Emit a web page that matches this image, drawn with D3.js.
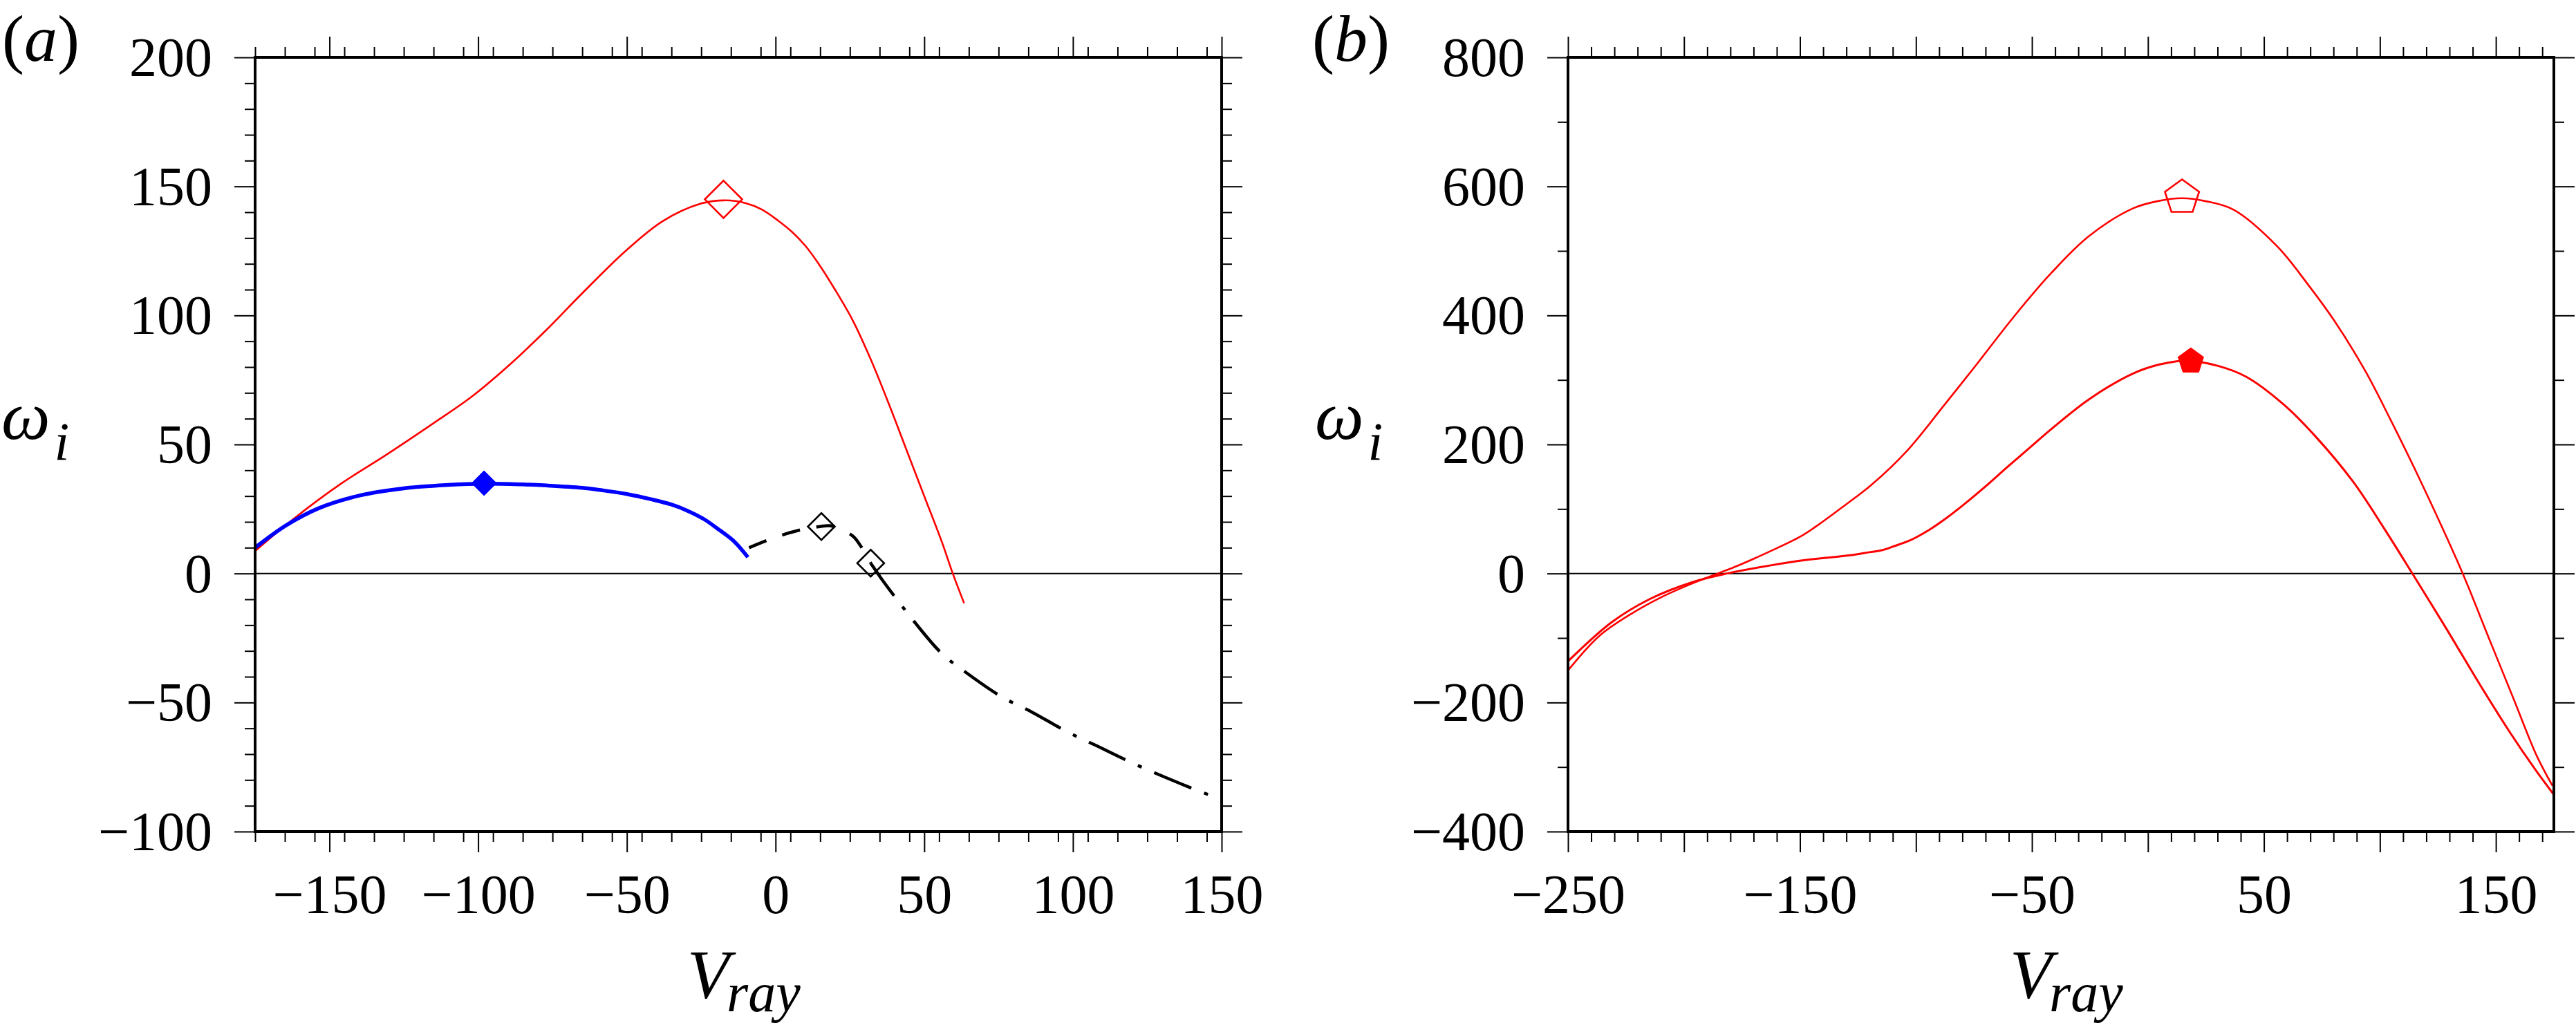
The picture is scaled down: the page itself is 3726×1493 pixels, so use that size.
<!DOCTYPE html>
<html>
<head>
<meta charset="utf-8">
<script src="https://cdn.jsdelivr.net/npm/d3@7"></script>
<style>
  html, body { margin: 0; padding: 0; background: #fff; }
  svg { display: block; }
  text { font-family: "Liberation Serif", "Times New Roman", serif; fill: #000; }
</style>
</head>
<body>
<svg id="chart" width="3726" height="1493"></svg>
<script>
// ---------------- DATA ----------------
// Panel (a)
const aRedV = [-175, -161.5, -146, -131.4, -114.8, -102.3, -89.9, -77.4, -65, -50.4, -38, -25.5, -17.2, -10, -4.7, 0.8, 5.6, 10, 14.5, 20, 26, 32, 38, 44, 50, 56, 59.6, 63.4];
const aRedW = [8.7, 21.7, 34.9, 45.6, 58.4, 68.4, 80.4, 94, 108.6, 125, 136.5, 143.2, 144.6, 143.5, 141.1, 136.8, 132.3, 127, 120, 110, 98, 83, 66, 48, 30, 12, 0, -11.5];

const aBlueV = [-175, -164.8, -153.8, -139.9, -125, -110, -98, -85, -77, -65, -58.7, -50, -42, -35, -29.6, -24, -19.3, -14, -9.3];
const aBlueW = [10, 18.5, 25.2, 30.2, 33, 34.3, 34.8, 34.5, 34.1, 33.2, 32.3, 30.8, 28.8, 26.7, 24.3, 21, 17.2, 12.5, 6.3];

const aDashV = [-8.9, -2, 3.6, 8, 11.9, 15, 18.1, 21.2, 24, 26.4, 29, 32];
const aDashW = [10, 13.2, 15.4, 16.8, 17.6, 18.2, 18.5, 17.6, 16, 14.1, 10, 4];

const aDashDotV = [32, 35.9, 39.9, 46.8, 55.9, 64.8, 76.2, 86.2, 98, 108.4, 120.5, 131.3, 143.7, 150];
const aDashDotW = [4, -2.5, -8.7, -18.9, -31, -39, -47.9, -53.7, -61.3, -67, -73.7, -79.1, -84.9, -87.5];

const aMarkRedOpen = [-17.5, 145];
const aMarkBlueFilled = [-98, 35];
const aMarkBlackOpen = [[15.4, 18.2], [32, 4]];

const aXTicksMajor = [-150, -100, -50, 0, 50, 100, 150];
const aYTicksMajor = [-100, -50, 0, 50, 100, 150, 200];

// Panel (b)
const bUpperV = [-250, -236.5, -222.9, -209.4, -195.9, -185, -176.9, -163.4, -149.9, -141.7, -130.9, -119.3, -103.9, -87.6, -74.1, -57.8, -41.6, -25.4, -6.4, 4, 14.7, 25, 36.9, 55.8, 69.4, 80.2, 93.7, 104.5, 118.1, 135.7, 146.2, 157.9, 167.6, 174.4];
const bUpperW = [-150.4, -96.8, -62.9, -36.1, -14.7, 0.5, 12, 33.5, 57, 76.4, 105, 137, 190, 262, 323, 398, 466, 523, 566, 577, 581.7, 577, 563.9, 506.8, 446, 392.5, 313.9, 238.9, 138.9, 0, -93.2, -196.8, -282.5, -329];

const bLowerV = [-250, -231.1, -214.8, -195.9, -181, -163.4, -147.2, -128.2, -120, -114.7, -109.3, -102.5, -95, -87.6, -80, -70, -60.6, -50, -41.6, -25.4, -6.4, 5, 16.6, 30, 42.3, 58.5, 72.1, 88.3, 101.8, 114, 128.9, 142.4, 156, 166.8, 175];
const bLowerW = [-136.1, -75.4, -39.7, -12.9, 0.3, 12.1, 21, 28.2, 33, 36, 42.5, 51.4, 66, 84, 105, 135, 165, 198, 224, 270, 310, 324, 330, 322, 305, 262, 213, 143, 70, 0, -87, -168, -246, -303, -343];

const bMarkOpen = [14.7, 583];
const bMarkFilled = [18.5, 329];

const bXTicksMajor = [-250, -200, -150, -100, -50, 0, 50, 100, 150];
const bXTickLabels = [-250, -150, -50, 50, 150];
const bYTicksMajor = [-400, -200, 0, 200, 400, 600, 800];

// ---------------- DRAW ----------------
const SERIF = '"Liberation Serif", "Times New Roman", serif';
const svg = d3.select("#chart");
svg.append("rect").attr("width", 3726).attr("height", 1493).attr("fill", "#fff");

const FONT = 80;
const zip = (a, b) => a.map((v, i) => [v, b[i]]);

function range(a, b, s) { const r = []; for (let v = a; v <= b + 1e-9; v += s) r.push(+v.toFixed(6)); return r; }

function panel(cfg) {
  const x = d3.scaleLinear().domain(cfg.xDom).range([cfg.left, cfg.right]);
  const y = d3.scaleLinear().domain(cfg.yDom).range([cfg.bottom, cfg.top]);
  const g = svg.append("g");

  const clipId = "clip" + cfg.id;
  svg.append("clipPath").attr("id", clipId).append("rect")
    .attr("x", cfg.left).attr("y", cfg.top)
    .attr("width", cfg.right - cfg.left).attr("height", cfg.bottom - cfg.top);

  const minorX = range(cfg.xDom[0], cfg.xDom[1], cfg.xMinorStep).filter(v => !cfg.xMajor.includes(v));
  const minorY = range(cfg.yDom[0], cfg.yDom[1], cfg.yMinorStep).filter(v => !cfg.yMajor.includes(v));

  function styleAxis(sel, dy) {
    sel.attr("font-family", SERIF).attr("font-size", FONT);
    sel.select(".domain").remove();
    sel.selectAll(".tick line").attr("stroke", "#000").attr("stroke-width", 2);
    sel.selectAll(".tick text").style("font-size", FONT + "px")
      .style("font-family", SERIF).attr("fill", "#000");
    if (dy) sel.selectAll(".tick text").attr("dy", dy);
  }

  // bottom
  g.append("g").attr("transform", `translate(0,${cfg.bottom})`)
    .call(d3.axisBottom(x).tickValues(cfg.xMajor).tickSize(30).tickPadding(31)
      .tickFormat(v => cfg.xLabels.includes(v) ? d3.format("d")(v) : ""))
    .call(s => styleAxis(s, "0.71em"));
  g.append("g").attr("transform", `translate(0,${cfg.bottom})`)
    .call(d3.axisBottom(x).tickValues(minorX).tickSize(15).tickFormat(""))
    .call(s => styleAxis(s));
  // top
  g.append("g").attr("transform", `translate(0,${cfg.top})`)
    .call(d3.axisTop(x).tickValues(cfg.xMajor).tickSize(30).tickFormat(""))
    .call(s => styleAxis(s));
  g.append("g").attr("transform", `translate(0,${cfg.top})`)
    .call(d3.axisTop(x).tickValues(minorX).tickSize(15).tickFormat(""))
    .call(s => styleAxis(s));
  // left
  g.append("g").attr("transform", `translate(${cfg.left},0)`)
    .call(d3.axisLeft(y).tickValues(cfg.yMajor).tickSize(30).tickPadding(32).tickFormat(d3.format("d")))
    .call(s => styleAxis(s, "0.33em"));
  g.append("g").attr("transform", `translate(${cfg.left},0)`)
    .call(d3.axisLeft(y).tickValues(minorY).tickSize(15).tickFormat(""))
    .call(s => styleAxis(s));
  // right
  g.append("g").attr("transform", `translate(${cfg.right},0)`)
    .call(d3.axisRight(y).tickValues(cfg.yMajor).tickSize(30).tickFormat(""))
    .call(s => styleAxis(s));
  g.append("g").attr("transform", `translate(${cfg.right},0)`)
    .call(d3.axisRight(y).tickValues(minorY).tickSize(15).tickFormat(""))
    .call(s => styleAxis(s));

  // zero line
  g.append("line").attr("x1", cfg.left).attr("x2", cfg.right)
    .attr("y1", y(0)).attr("y2", y(0)).attr("stroke", "#000").attr("stroke-width", 2);

  const plot = g.append("g").attr("clip-path", `url(#${clipId})`);
  const line = d3.line().x(d => x(d[0])).y(d => y(d[1])).curve(d3.curveCatmullRom.alpha(0.5));

  return { x, y, g, plot, line, cfg };
}

function frame(p) {
  const c = p.cfg;
  p.g.append("rect").attr("x", c.left).attr("y", c.top)
    .attr("width", c.right - c.left).attr("height", c.bottom - c.top)
    .attr("fill", "none").attr("stroke", "#000").attr("stroke-width", 4);
}

function labels(p, letter, xLetter, xOmega) {
  const c = p.cfg;
  const t = svg.append("text").attr("x", xLetter).attr("y", 88).style("font-size", "96px");
  t.append("tspan").text("(");
  t.append("tspan").style("font-style", "italic").text(letter);
  t.append("tspan").text(")");

  const w = svg.append("text").attr("x", xOmega).attr("y", 635).style("font-style", "italic");
  w.append("tspan").style("font-size", "100px").text("ω");
  w.append("tspan").style("font-size", "78px").attr("dx", 6).attr("dy", 30).text("i");

  const cx = (c.left + c.right) / 2;
  const v = svg.append("text").attr("x", cx - 74).attr("y", 1443).style("font-style", "italic");
  v.append("tspan").style("font-size", "100px").text("V");
  v.append("tspan").style("font-size", "80px").attr("dx", -4).attr("dy", 20).text("ray");
}

function diamond(p, pt, r, fill, stroke, sw) {
  const cx = p.x(pt[0]), cy = p.y(pt[1]);
  p.g.append("path")
    .attr("d", `M${cx},${cy - r}L${cx + r},${cy}L${cx},${cy + r}L${cx - r},${cy}Z`)
    .attr("fill", fill).attr("stroke", stroke).attr("stroke-width", sw);
}
function pentagon(p, pt, r, fill, stroke, sw) {
  const cx = p.x(pt[0]), cy = p.y(pt[1]);
  const pts = d3.range(5).map(i => {
    const a = -Math.PI / 2 + i * 2 * Math.PI / 5;
    return [cx + r * Math.cos(a), cy + r * Math.sin(a)];
  });
  p.g.append("path").attr("d", "M" + pts.join("L") + "Z")
    .attr("fill", fill).attr("stroke", stroke).attr("stroke-width", sw);
}

// Panel (a)
const pa = panel({
  id: "a", left: 369, right: 1767, top: 83, bottom: 1203,
  xDom: [-175, 150], yDom: [-100, 200],
  xMajor: aXTicksMajor, xLabels: aXTicksMajor, xMinorStep: 10,
  yMajor: aYTicksMajor, yMinorStep: 10
});

pa.plot.append("path").attr("d", pa.line(zip(aRedV, aRedW)))
  .attr("fill", "none").attr("stroke", "#ff0000").attr("stroke-width", 2.6);
pa.plot.append("path").attr("d", pa.line(zip(aBlueV, aBlueW)))
  .attr("fill", "none").attr("stroke", "#0000ff").attr("stroke-width", 5.5);
pa.plot.append("path").attr("d", pa.line(zip(aDashV, aDashW)))
  .attr("fill", "none").attr("stroke", "#000").attr("stroke-width", 4.5)
  .attr("stroke-dasharray", "27,24");
pa.plot.append("path").attr("d", pa.line(zip(aDashDotV, aDashDotW)))
  .attr("fill", "none").attr("stroke", "#000").attr("stroke-width", 4.5)
  .attr("stroke-dasharray", "58,20,6,20");

diamond(pa, aMarkRedOpen, 27, "none", "#ff0000", 2.6);
diamond(pa, aMarkBlueFilled, 18, "#0000ff", "#0000ff", 1);
aMarkBlackOpen.forEach(m => diamond(pa, m, 19.5, "none", "#000", 2.6));
frame(pa);
labels(pa, "a", 3, 2);

// Panel (b)
const pb = panel({
  id: "b", left: 2268, right: 3694, top: 83, bottom: 1203,
  xDom: [-250, 175], yDom: [-400, 800],
  xMajor: bXTicksMajor, xLabels: bXTickLabels, xMinorStep: 10,
  yMajor: bYTicksMajor, yMinorStep: 100
});
pb.plot.append("path").attr("d", pb.line(zip(bUpperV, bUpperW)))
  .attr("fill", "none").attr("stroke", "#ff0000").attr("stroke-width", 2.6);
pb.plot.append("path").attr("d", pb.line(zip(bLowerV, bLowerW)))
  .attr("fill", "none").attr("stroke", "#ff0000").attr("stroke-width", 3);
pentagon(pb, bMarkOpen, 26, "none", "#ff0000", 2.6);
pentagon(pb, bMarkFilled, 19.5, "#ff0000", "#ff0000", 1);
frame(pb);
labels(pb, "b", 1898, 1902);
</script>
</body>
</html>
